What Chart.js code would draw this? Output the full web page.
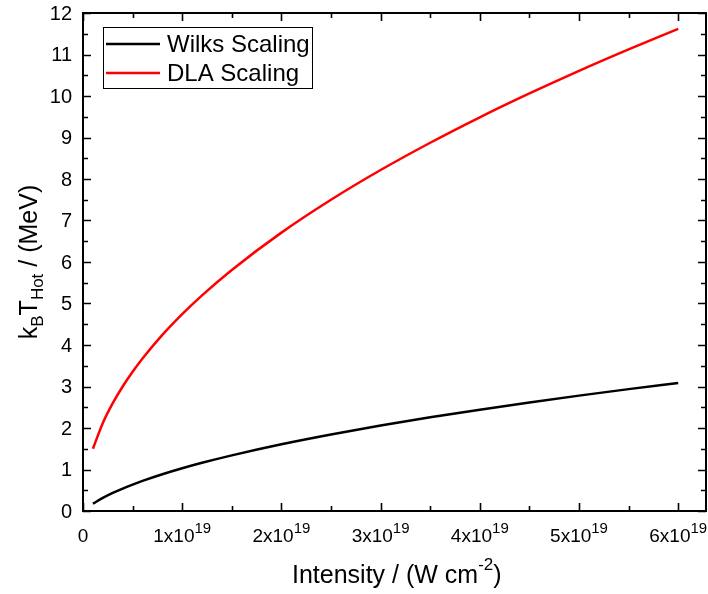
<!DOCTYPE html>
<html>
<head>
<meta charset="utf-8">
<script src="https://cdn.jsdelivr.net/npm/chart.js@4"></script>
<style>
  body { margin: 0; background: #fff; }
  #chart { display: block; }
</style>
</head>
<body>
<canvas id="chart" width="708" height="594"></canvas>
<script>
'use strict';

// intensity in W cm^-2
const intensity = [1e18, 2e18, 3e18, 4e18, 5e18, 6e18, 8e18, 1e19, 1.2e19, 1.5e19,
  2e19, 2.5e19, 3e19, 3.5e19, 4e19, 4.5e19, 5e19, 5.5e19, 6e19];
const wilks = [0.176, 0.316, 0.435, 0.541, 0.637, 0.726, 0.886, 1.03, 1.162, 1.341,
  1.608, 1.844, 2.058, 2.257, 2.441, 2.615, 2.78, 2.937, 3.087];
const dla = [1.5, 2.121, 2.598, 3.0, 3.354, 3.674, 4.243, 4.743, 5.196, 5.809,
  6.708, 7.5, 8.216, 8.874, 9.487, 10.062, 10.607, 11.124, 11.619];
const seriesNames = ['Wilks Scaling', 'DLA Scaling'];
const xTicks = [0, 1e19, 2e19, 3e19, 4e19, 5e19, 6e19];
const xTickLabels = ['0', '1x10', '2x10', '3x10', '4x10', '5x10', '6x10'];
const yTicks = [0, 1, 2, 3, 4, 5, 6, 7, 8, 9, 10, 11, 12];

const FONT = '"Liberation Sans", Arial, sans-serif';

const frame = {
  id: 'frame',
  afterDraw(chart) {
    const ctx = chart.ctx;
    const a = chart.chartArea;
    const xs = chart.scales.x, ys = chart.scales.y;
    ctx.save();
    ctx.strokeStyle = '#000';
    ctx.fillStyle = '#000';
    ctx.lineWidth = 2;
    ctx.strokeRect(a.left, a.top, a.right - a.left, a.bottom - a.top);

    // ticks, inward on all sides
    ctx.lineWidth = 1.6;
    ctx.beginPath();
    for (let v = 0; v <= xs.max; v += 0.5e19) {
      const px = Math.round(xs.getPixelForValue(v)) + 0.5;
      const len = (Math.round(v / 1e18) % 10 === 0) ? 8 : 5;
      ctx.moveTo(px, a.bottom); ctx.lineTo(px, a.bottom - len);
      ctx.moveTo(px, a.top); ctx.lineTo(px, a.top + len);
    }
    for (let v = 0; v <= ys.max; v += 0.5) {
      const py = Math.round(ys.getPixelForValue(v)) + 0.5;
      const len = Number.isInteger(v) ? 8 : 5;
      ctx.moveTo(a.left, py); ctx.lineTo(a.left + len, py);
      ctx.moveTo(a.right, py); ctx.lineTo(a.right - len, py);
    }
    ctx.stroke();

    // x tick labels
    ctx.textBaseline = 'alphabetic';
    xTicks.forEach((v, i) => {
      const px = xs.getPixelForValue(v);
      const main = xTickLabels[i];
      ctx.font = '19px ' + FONT;
      if (v === 0) {
        ctx.textAlign = 'center';
        ctx.fillText(main, px, 542);
        return;
      }
      const w1 = ctx.measureText(main).width;
      ctx.font = '15px ' + FONT;
      const w2 = ctx.measureText('19').width;
      const x0 = px - (w1 + w2) / 2;
      ctx.textAlign = 'left';
      ctx.font = '19px ' + FONT;
      ctx.fillText(main, x0, 542);
      ctx.font = '15px ' + FONT;
      ctx.fillText('19', x0 + w1, 533);
    });

    // y tick labels
    ctx.font = '20px ' + FONT;
    ctx.textAlign = 'right';
    ctx.textBaseline = 'middle';
    yTicks.forEach(v => {
      ctx.fillText(String(v), 72, ys.getPixelForValue(v) + 1);
    });

    // x title
    ctx.textBaseline = 'alphabetic';
    ctx.textAlign = 'left';
    const big = '25px ' + FONT, small = '17px ' + FONT;
    ctx.font = big;
    const t1 = 'Intensity / (W cm';
    const w1 = ctx.measureText(t1).width;
    const w3 = ctx.measureText(')').width;
    ctx.font = small;
    const w2 = ctx.measureText('-2').width;
    let x0 = 292;
    ctx.font = big;
    ctx.fillText(t1, x0, 583);
    ctx.font = small;
    ctx.fillText('-2', x0 + w1, 570);
    ctx.font = big;
    ctx.fillText(')', x0 + w1 + w2, 583);

    // y title, rotated
    ctx.save();
    ctx.translate(37, 262);
    ctx.rotate(-Math.PI / 2);
    const parts = [['k', big, 0], ['B', small, 6], ['T', big, 0], ['Hot', small, 6], [' / (MeV)', big, 0]];
    let total = 0;
    parts.forEach(p => { ctx.font = p[1]; total += ctx.measureText(p[0]).width; });
    let cx = -total / 2;
    parts.forEach(p => {
      ctx.font = p[1];
      ctx.fillText(p[0], cx, p[2]);
      cx += ctx.measureText(p[0]).width;
    });
    ctx.restore();

    // legend
    ctx.lineWidth = 1;
    ctx.strokeStyle = '#000';
    ctx.strokeRect(103.5, 27.5, 209, 61);
    const colors = ['#000000', '#ff0000'];
    ctx.font = '24px ' + FONT;
    ctx.textBaseline = 'middle';
    seriesNames.forEach((name, i) => {
      const y = 44 + i * 29;
      ctx.strokeStyle = colors[i];
      ctx.lineWidth = 2.5;
      ctx.beginPath();
      ctx.moveTo(106, y); ctx.lineTo(160, y);
      ctx.stroke();
      ctx.fillStyle = '#000';
      ctx.fillText(name, 167, y + 1);
    });
    ctx.restore();
  }
};

new Chart(document.getElementById('chart').getContext('2d'), {
  type: 'line',
  data: {
    labels: intensity,
    datasets: [
      {label: seriesNames[0], data: intensity.map((x, i) => ({x, y: wilks[i]})),
        borderColor: '#000000', borderWidth: 2.5, pointRadius: 0, tension: 0.4, cubicInterpolationMode: 'monotone'},
      {label: seriesNames[1], data: intensity.map((x, i) => ({x, y: dla[i]})),
        borderColor: '#ff0000', borderWidth: 2.5, pointRadius: 0, tension: 0.4, cubicInterpolationMode: 'monotone'}
    ]
  },
  options: {
    responsive: false,
    animation: false,
    layout: {padding: {left: 83, right: 2, top: 13, bottom: 83}},
    plugins: {legend: {display: false}, tooltip: {enabled: false}},
    scales: {
      x: {type: 'linear', min: 0, max: 6.28e19, display: false},
      y: {type: 'linear', min: 0, max: 12, display: false}
    }
  },
  plugins: [frame]
});
</script>
</body>
</html>
